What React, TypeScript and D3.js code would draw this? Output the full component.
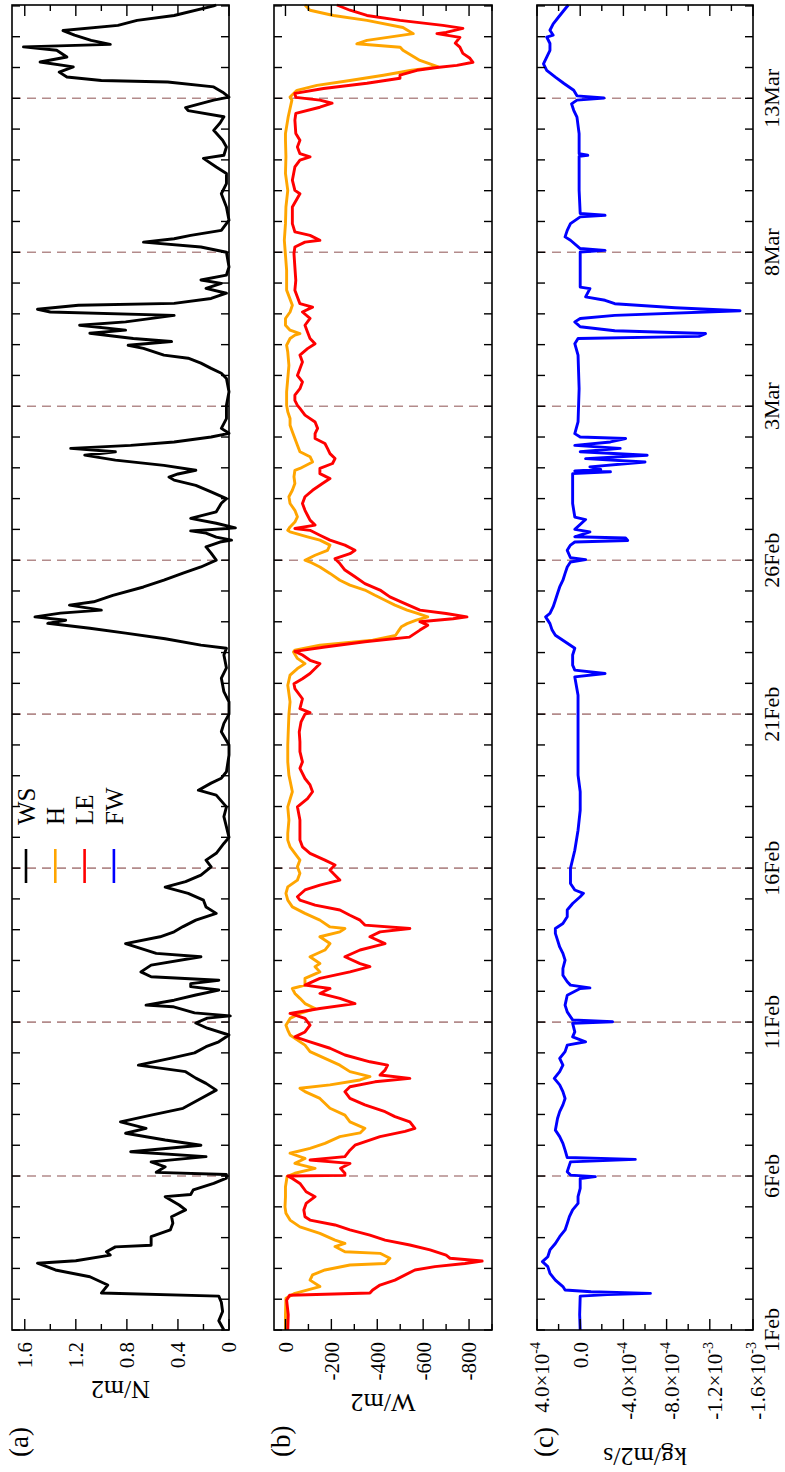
import React, { useEffect, useRef } from "react";
import * as d3 from "d3";

// [days since 1 Feb, value]
type Point = [number, number];

// wind stress, N/m2
const wsData: Point[] = [
  [0, 0.04], [0.3, 0.08], [0.6, 0.05], [0.9, 0.06], [1.1, 0.08], [1.2, 1.0], [1.46, 0.95], [1.73, 1.09],
  [1.95, 1.36], [2.17, 1.5], [2.25, 1.2], [2.43, 0.93], [2.54, 0.96], [2.7, 0.89], [2.75, 0.61], [3.03, 0.61],
  [3.25, 0.46], [3.47, 0.44], [3.68, 0.45], [3.9, 0.34], [4.06, 0.39], [4.33, 0.5], [4.4, 0.3], [4.55, 0.28],
  [4.76, 0.12], [4.93, 0.02], [5.05, 0.02], [5.12, 0.57], [5.3, 0.5], [5.46, 0.61], [5.63, 0.18], [5.79, 0.77],
  [6.0, 0.22], [6.17, 0.5], [6.39, 0.81], [6.55, 0.65], [6.76, 0.85], [6.98, 0.61], [7.2, 0.36], [7.52, 0.22],
  [7.79, 0.1], [8.01, 0.18], [8.18, 0.26], [8.39, 0.34], [8.6, 0.71], [8.82, 0.46], [9.0, 0.27], [9.2, 0.18],
  [9.36, 0.08], [9.58, 0.0], [9.8, 0.17], [9.97, 0.26], [10.13, 0.17], [10.2, -0.01], [10.3, 0.27], [10.5, 0.44],
  [10.55, 0.65], [10.71, 0.43], [10.88, 0.26], [11.04, 0.08], [11.15, 0.3], [11.25, 0.3], [11.36, 0.08],
  [11.47, 0.61], [11.63, 0.69], [11.85, 0.61], [12.12, 0.22], [12.23, 0.57], [12.44, 0.73], [12.55, 0.81],
  [12.77, 0.54], [12.93, 0.43], [13.1, 0.36], [13.31, 0.26], [13.53, 0.1], [13.74, 0.18], [13.96, 0.2],
  [14.18, 0.32], [14.38, 0.5], [14.56, 0.34], [14.77, 0.22], [15.04, 0.14], [15.26, 0.18], [15.48, 0.1],
  [15.8, 0.04], [16.0, 0.0], [16.34, 0.02], [16.67, 0.04], [16.99, 0.02], [17.37, 0.1], [17.53, 0.24],
  [17.76, 0.14], [17.92, 0.06], [18.13, 0.02], [18.67, 0.0], [19.0, 0.0], [19.43, 0.06], [19.7, 0.04],
  [20.0, 0.0], [20.4, 0.0], [20.73, 0.04], [21.17, 0.06], [21.5, 0.02], [21.92, 0.04], [22.14, 0.02],
  [22.24, 0.22], [22.45, 0.5], [22.63, 0.81], [22.79, 1.09], [22.95, 1.42], [23.05, 1.28], [23.16, 1.52],
  [23.28, 1.32], [23.38, 1.0], [23.54, 1.25], [23.65, 1.06], [23.86, 0.91], [24.13, 0.67], [24.35, 0.51],
  [24.58, 0.36], [24.78, 0.22], [25.0, 0.1], [25.23, 0.14], [25.43, 0.18], [25.6, 0.06], [25.65, -0.02],
  [25.75, 0.1], [25.88, 0.18], [25.95, 0.3], [26.05, -0.05], [26.2, 0.1], [26.36, 0.3], [26.57, 0.1],
  [26.85, 0.06], [27.0, 0.02], [27.22, 0.14], [27.43, 0.26], [27.6, 0.43], [27.7, 0.47], [27.8, 0.4],
  [27.92, 0.26], [28.08, 0.51], [28.25, 0.89], [28.41, 1.13], [28.52, 0.89], [28.63, 1.24], [28.73, 0.77],
  [28.84, 0.43], [29.0, 0.14], [29.12, 0.0], [29.28, 0.06], [29.6, 0.02], [30.03, 0.02], [30.47, 0.0],
  [30.9, 0.02], [31.07, 0.06], [31.23, 0.14], [31.4, 0.22], [31.56, 0.32], [31.66, 0.51], [31.88, 0.67],
  [31.98, 0.79], [32.1, 0.45], [32.2, 0.75], [32.37, 1.09], [32.47, 0.81], [32.63, 1.17], [32.74, 0.81],
  [32.95, 0.43], [33.06, 1.4], [33.15, 1.5], [33.28, 1.18], [33.34, 0.43], [33.5, 0.14], [33.67, 0.02],
  [33.83, 0.18], [33.99, 0.06], [34.1, 0.22], [34.26, 0.02], [34.52, 0.0], [35.0, 0.02], [35.17, 0.22],
  [35.33, 0.67], [35.44, 0.43], [35.55, 0.3], [35.71, 0.06], [36.04, 0.0], [36.47, 0.02], [36.9, 0.06],
  [37.23, 0.02], [37.56, 0.02], [37.77, 0.1], [38.05, 0.2], [38.15, 0.04], [38.42, 0.02], [38.64, 0.05],
  [38.96, 0.12], [39.2, 0.07], [39.4, 0.04], [39.6, 0.32], [39.7, 0.34], [39.94, 0.12], [40.04, 0.0],
  [40.2, 0.05], [40.37, 0.12], [40.53, 0.48], [40.58, 1.0], [40.69, 1.27], [40.85, 1.33], [41.02, 1.22],
  [41.18, 1.48], [41.34, 1.27], [41.56, 1.35], [41.67, 1.61], [41.75, 0.93], [41.88, 1.08], [42.05, 1.21],
  [42.2, 1.3], [42.37, 0.87], [42.53, 0.72], [42.69, 0.43], [43.0, 0.12], [43.03, 0.1],
];

// sensible heat flux, W/m2
const hData: Point[] = [
  [0, 0], [0.5, 0], [1.03, -2], [1.19, -41], [1.41, -150], [1.62, -107], [1.79, -118], [1.95, -172],
  [2.11, -281], [2.16, -434], [2.33, -455], [2.49, -412], [2.54, -259], [2.71, -216], [2.81, -259],
  [2.92, -216], [3.14, -150], [3.35, -63], [3.57, -20], [3.79, -2], [4.0, 2], [4.33, 0], [4.65, 0],
  [4.98, -7], [5.09, -41], [5.25, -129], [5.41, -41], [5.57, -85], [5.74, -20], [5.9, -107], [6.06, -172],
  [6.28, -237], [6.4, -325], [6.55, -346], [6.76, -281], [6.98, -259], [7.2, -194], [7.52, -150],
  [7.74, -85], [7.85, -63], [7.96, -194], [8.12, -325], [8.23, -368], [8.39, -281], [8.6, -237],
  [8.82, -172], [9.04, -107], [9.25, -85], [9.47, -41], [9.58, -20], [9.74, -10], [9.9, -2], [10.12, -20],
  [10.28, -63], [10.44, -129], [10.6, -85], [10.77, -63], [10.93, -41], [11.09, -30], [11.2, -85],
  [11.42, -85], [11.63, -150], [11.8, -129], [11.9, -150], [12.12, -107], [12.34, -172], [12.55, -194],
  [12.77, -150], [12.93, -237], [13.04, -259], [13.09, -194], [13.31, -150], [13.53, -85], [13.74, -30],
  [13.96, -10], [14.18, -2], [14.39, -10], [14.61, -52], [14.83, -63], [15.04, -52], [15.26, -63],
  [15.48, -41], [15.69, -20], [15.91, -10], [16.13, -10], [16.56, -15], [16.99, -10], [17.48, -30],
  [18.02, -15], [18.45, -10], [18.99, -10], [19.42, -12], [19.99, -15], [20.4, -20], [20.94, -10],
  [21.27, -20], [21.48, -52], [21.64, -85], [21.81, -52], [22.02, -35], [22.08, -41], [22.24, -150],
  [22.4, -380], [22.56, -480], [22.73, -495], [22.84, -505], [22.94, -530], [23.05, -570], [23.16, -620],
  [23.27, -575], [23.38, -530], [23.54, -477], [23.7, -434], [23.86, -390], [24.03, -346], [24.19, -281],
  [24.35, -237], [24.57, -194], [24.78, -150], [24.94, -107], [25.0, -85], [25.16, -129], [25.32, -183],
  [25.49, -194], [25.65, -150], [25.76, -96], [25.92, -20], [25.97, -10], [26.08, -20], [26.24, -41],
  [26.41, -52], [26.62, -41], [26.84, -20], [27.06, -15], [27.27, -30], [27.49, -41], [27.71, -37],
  [27.92, -41], [27.98, -63], [28.19, -118], [28.36, -107], [28.52, -63], [28.73, -52], [28.95, -41],
  [29.17, -30], [29.38, -20], [29.6, -20], [29.82, -10], [30.03, -5], [30.47, -5], [30.9, -10],
  [31.33, -15], [31.76, -10], [31.98, -5], [32.2, -20], [32.31, -41], [32.36, -63], [32.47, -20],
  [32.63, 0], [32.85, 0], [33.06, -20], [33.28, -30], [33.77, -5], [34.42, -5], [35.39, 5], [35.93, 0],
  [36.47, -2], [37.01, -10], [37.56, 0], [38.1, -2], [38.64, 0], [38.86, 0], [39.4, -12], [39.94, -28],
  [40.04, -20], [40.26, -50], [40.42, -137], [40.58, -281], [40.75, -427], [40.91, -550], [41.02, -666],
  [41.23, -586], [41.56, -512], [41.66, -500], [41.77, -311], [41.88, -355], [42.1, -557], [42.3, -512],
  [42.53, -355], [42.69, -209], [42.86, -107], [43.03, -85],
];

// latent heat flux, W/m2
const leData: Point[] = [
  [0, -10], [0.5, -12], [0.97, -5], [1.13, -18], [1.2, -368], [1.3, -380], [1.46, -412], [1.62, -477],
  [1.95, -564], [2.06, -651], [2.16, -782], [2.24, -857], [2.33, -717], [2.43, -700], [2.6, -630],
  [2.76, -542], [2.92, -434], [3.08, -368], [3.25, -281], [3.41, -216], [3.57, -107], [3.68, -85],
  [3.9, -80], [4.11, -90], [4.33, -129], [4.49, -90], [4.76, -63], [4.92, -30], [5.0, -10], [5.02, -259],
  [5.09, -259], [5.25, -240], [5.41, -281], [5.52, -107], [5.63, -259], [5.84, -281], [6.0, -303],
  [6.28, -412], [6.45, -521], [6.55, -564], [6.76, -542], [6.93, -477], [7.09, -434], [7.31, -346],
  [7.52, -281], [7.74, -259], [7.9, -281], [8.06, -390], [8.17, -542], [8.28, -412], [8.44, -434],
  [8.6, -445], [8.71, -368], [8.93, -259], [9.15, -194], [9.36, -107], [9.52, -41], [9.68, -85],
  [9.9, -107], [10.12, -85], [10.28, -20], [10.44, -150], [10.6, -303], [10.77, -237], [10.93, -150],
  [11.09, -194], [11.2, -85], [11.42, -150], [11.63, -281], [11.8, -368], [11.9, -325], [12.12, -259],
  [12.34, -325], [12.55, -434], [12.77, -368], [12.93, -412], [13.04, -542], [13.15, -346], [13.31, -325],
  [13.47, -281], [13.64, -237], [13.8, -129], [13.96, -63], [14.07, -52], [14.29, -85], [14.45, -150],
  [14.61, -237], [14.77, -216], [14.94, -194], [15.1, -216], [15.26, -172], [15.48, -107], [15.69, -74],
  [15.91, -63], [16.13, -63], [16.56, -63], [16.99, -52], [17.26, -96], [17.48, -118], [17.7, -107],
  [17.91, -85], [18.24, -63], [18.45, -74], [18.78, -63], [19.1, -63], [19.42, -60], [19.75, -68],
  [20.0, -85], [20.05, -107], [20.18, -63], [20.5, -74], [20.83, -41], [20.99, -37], [21.15, -74],
  [21.32, -107], [21.48, -129], [21.64, -150], [21.75, -107], [21.92, -74], [22.04, -41], [22.18, -172],
  [22.35, -346], [22.5, -540], [22.73, -586], [22.89, -620], [23.0, -586], [23.1, -730], [23.16, -791],
  [23.27, -700], [23.38, -586], [23.59, -521], [23.81, -455], [24.03, -412], [24.24, -346], [24.46, -303],
  [24.68, -259], [24.89, -237], [25.05, -216], [25.21, -281], [25.32, -303], [25.49, -259], [25.65, -194],
  [25.81, -150], [25.97, -107], [26.03, -41], [26.14, -129], [26.3, -107], [26.46, -96], [26.62, -85],
  [26.84, -74], [27.06, -85], [27.27, -118], [27.49, -161], [27.65, -194], [27.81, -150], [27.98, -150],
  [28.14, -205], [28.3, -216], [28.46, -194], [28.63, -183], [28.79, -172], [28.95, -129], [29.11, -129],
  [29.28, -140], [29.49, -129], [29.71, -85], [29.93, -63], [30.03, -52], [30.19, -41], [30.36, -41],
  [30.57, -63], [30.79, -74], [31.0, -52], [31.22, -63], [31.44, -74], [31.66, -63], [31.87, -96],
  [32.03, -129], [32.2, -107], [32.41, -96], [32.63, -85], [32.85, -107], [33.06, -74], [33.22, -118],
  [33.33, -63], [33.55, -52], [33.77, -41], [34.09, -45], [34.52, -41], [34.96, -37], [35.17, -41],
  [35.33, -85], [35.39, -150], [35.55, -107], [35.66, -41], [35.93, -30], [36.47, -30], [36.9, -63],
  [37.01, -41], [37.34, -30], [37.77, -41], [37.99, -63], [38.1, -107], [38.2, -63], [38.42, -52],
  [38.64, -63], [38.86, -45], [39.29, -41], [39.51, -45], [39.71, -150], [39.84, -203], [39.94, -150],
  [40.03, -45], [40.16, -41], [40.32, -166], [40.49, -355], [40.65, -499], [40.75, -499], [40.91, -573],
  [41.0, -660], [41.07, -747], [41.17, -817], [41.3, -804], [41.46, -773], [41.66, -760], [41.79, -740],
  [41.98, -760], [42.1, -660], [42.14, -700], [42.27, -773], [42.37, -686], [42.53, -499], [42.69, -355],
  [42.86, -281], [43.03, -224],
];

// freshwater flux, in units of 1e-4 kg/m2/s
const fwData: Point[] = [
  [0, 0], [0.5, 0.05], [1.1, 0], [1.15, -2.5], [1.19, -6.5], [1.24, -1], [1.3, 1.4], [1.41, 1.6],
  [1.62, 2.3], [1.84, 2.8], [2.06, 3.0], [2.22, 3.5], [2.38, 3.0], [2.6, 2.8], [2.81, 2.3], [3.03, 1.9],
  [3.25, 1.4], [3.46, 1.2], [3.68, 1.0], [3.9, 0.7], [4.11, 0.2], [4.33, 0.2], [4.6, 0], [4.92, 0],
  [4.98, -1.4], [5.03, 0.9], [5.14, 1.2], [5.46, 0.9], [5.54, -5.1], [5.6, 1.2], [5.84, 1.4], [6.06, 1.6],
  [6.28, 1.9], [6.49, 2.3], [6.87, 2.1], [7.09, 1.9], [7.31, 1.6], [7.52, 1.4], [7.74, 1.6], [7.96, 1.9],
  [8.17, 2.4], [8.39, 1.9], [8.6, 1.6], [8.82, 1.9], [9.04, 1.4], [9.25, 1.2], [9.36, -0.5], [9.52, 0.7],
  [9.68, 0.5], [9.96, 0.7], [10.01, -3.0], [10.07, 0.7], [10.33, 1.2], [10.55, 1.4], [10.87, 1.2],
  [11.09, 0], [11.11, -0.9], [11.2, 0.9], [11.31, 1.2], [11.52, 1.6], [11.74, 1.6], [12.01, 1.4],
  [12.23, 1.6], [12.44, 1.9], [12.66, 2.1], [12.88, 2.3], [13.04, 2.3], [13.2, 1.6], [13.42, 1.2],
  [13.64, 1.2], [13.85, 0.7], [14.07, 0], [14.18, -0.3], [14.29, 0.5], [14.5, 0.9], [14.99, 0.9],
  [15.58, 0.5], [16.23, 0.2], [16.88, 0], [17.48, 0], [18.02, 0.2], [19.31, 0.2], [20.61, 0.2],
  [21.21, 0.5], [21.32, -2.3], [21.43, 0.5], [21.59, 0.7], [21.92, 0.7], [22.14, 0.5], [22.35, 1.4],
  [22.56, 2.3], [22.73, 2.6], [22.94, 2.8], [23.16, 3.2], [23.27, 2.8], [23.49, 2.5], [23.7, 2.3],
  [23.92, 2.1], [24.13, 1.9], [24.35, 1.6], [24.57, 1.4], [24.78, 1.2], [24.94, 0.9], [25.02, -0.5],
  [25.08, 0.9], [25.32, 1.2], [25.49, 0.9], [25.59, 0.5], [25.64, -4.4], [25.72, -4.2], [25.76, 0.5],
  [25.92, -0.9], [26.0, 0.5], [26.32, -0.5], [26.4, 0.5], [26.84, 0.7], [27.49, 0.7], [27.81, 0.7],
  [27.87, -2.8], [27.9, 0.5], [27.95, -1.9], [28.03, -0.9], [28.19, -6.0], [28.3, -0.5], [28.41, -6.2],
  [28.52, 0], [28.63, -3.7], [28.73, 0.5], [28.84, -2.8], [28.95, -4.2], [29.0, 0], [29.11, 0.5],
  [29.49, 0.2], [30.57, 0.1], [31.66, 0.2], [32.03, 0.5], [32.2, 0.2], [32.27, -11.0], [32.36, -11.6],
  [32.45, -3.2], [32.58, 0], [32.74, 0.5], [32.85, 0], [32.95, -3.2], [33.1, -14.8], [33.2, -8.8],
  [33.33, -3.2], [33.44, -2.3], [33.55, -0.5], [33.82, -0.9], [33.87, 0], [34.31, 0], [35.01, 0],
  [35.06, -2.3], [35.12, 0], [35.39, 0.9], [35.5, 1.4], [35.71, 1.2], [35.93, 0.9], [36.15, 0],
  [36.2, -2.3], [36.26, 0], [37.01, 0.1], [37.56, 0.1], [38.12, 0.1], [38.15, -0.7], [38.2, 0.1],
  [38.64, 0.1], [38.85, 0.1], [39.39, 0.3], [39.61, 0.6], [39.82, 0.8], [39.94, 0.3], [40.01, -2.2],
  [40.08, 0.3], [40.26, 0.6], [40.48, 1.5], [40.69, 2.3], [40.91, 3.1], [41.12, 3.4], [41.34, 3.1],
  [41.56, 2.8], [41.78, 2.8], [41.99, 3.1], [42.05, 2.5], [42.21, 2.8], [42.42, 2.5], [42.64, 2.0],
  [42.86, 1.5], [43.03, 1.1],
];

const wsTicks = [0, 0.4, 0.8, 1.2, 1.6];
const heatTicks = [0, -200, -400, -600, -800];
const fwTicks = [4e-4, 0, -4e-4, -8e-4, -1.2e-3, -1.6e-3];
const legendNames = ["WS", "H", "LE", "FW"];
const legendColors = ["#000000", "#ffa500", "#ff0000", "#0000ff"];

const PAGE_W = 785;
const PAGE_H = 1472;
const DAY = 864e5;
const FONT = "'Liberation Serif', 'Times New Roman', Times, serif";
const start = new Date(Date.UTC(2019, 1, 1));
const end = new Date(+start + 43.03 * DAY);

interface Series {
  data: Point[];
  color: string;
  scale: number;
}

interface Panel {
  label: string;
  title: string;
  titleX: number;
  top: number;
  bottom: number;
  domain: [number, number];
  ticks: number[];
  minorStep: number;
  fmt: (v: number) => [string, string];
  series: Series[];
}

const plain = (v: number): [string, string] => [String(v), ""];
const sci = (v: number): [string, string] => {
  if (v === 0) return ["0.0", ""];
  const e = Math.floor(Math.log10(Math.abs(v)) + 1e-9);
  return [`${(v / Math.pow(10, e)).toFixed(1)}×10`, String(e)];
};

const panels: Panel[] = [
  {
    label: "(a)", title: "N/m2", titleX: 91, top: 12, bottom: 229,
    domain: [1.7, 0], ticks: wsTicks, minorStep: 0.2, fmt: plain,
    series: [{ data: wsData, color: "#000000", scale: 1 }],
  },
  {
    label: "(b)", title: "W/m2", titleX: 78, top: 274, bottom: 492,
    domain: [50, -900], ticks: heatTicks, minorStep: 100, fmt: plain,
    series: [
      { data: hData, color: "#ffa500", scale: 1 },
      { data: leData, color: "#ff0000", scale: 1 },
    ],
  },
  {
    label: "(c)", title: "kg/m2/s", titleX: 24, top: 537, bottom: 753,
    domain: [4e-4, -1.6e-3], ticks: fwTicks, minorStep: 2e-4, fmt: sci,
    series: [{ data: fwData, color: "#0000ff", scale: 1e-4 }],
  },
];

const App: React.FC = () => {
  const chartRef = useRef<SVGSVGElement | null>(null);

  useEffect(() => {
    if (!chartRef.current) return;
    const svg = d3.select(chartRef.current);
    svg.selectAll("*").remove();

    // the chart is drawn landscape and turned a quarter turn to the left
    const g = svg
      .append("g")
      .attr("transform", `translate(0,${PAGE_H}) rotate(-90)`)
      .attr("font-family", FONT);

    const x = d3.scaleUtc().domain([start, end]).range([142, 1467]);
    const [x0, x1] = x.range();
    const days = d3.utcDay.range(start, end);
    const labelled = d3.utcDay.range(start, end, 5);
    const toDate = (t: number) => new Date(+start + t * DAY);

    panels.forEach((p) => {
      const y = d3.scaleLinear().domain(p.domain).range([p.top, p.bottom]);
      const lo = Math.min(...p.domain);
      const hi = Math.max(...p.domain);

      // dashed day markers
      g.append("g")
        .selectAll("line")
        .data(labelled.slice(1))
        .join("line")
        .attr("x1", (d) => x(d))
        .attr("x2", (d) => x(d))
        .attr("y1", p.top)
        .attr("y2", p.bottom)
        .attr("stroke", "#b38b8b")
        .attr("stroke-width", 1.6)
        .attr("stroke-dasharray", "9,6");

      // series
      p.series.forEach((s) => {
        const line = d3
          .line<Point>()
          .x((d) => x(toDate(d[0])))
          .y((d) => y(d[1] * s.scale));
        g.append("path")
          .attr("d", line(s.data))
          .attr("fill", "none")
          .attr("stroke", s.color)
          .attr("stroke-width", 2.9)
          .attr("stroke-linejoin", "round");
      });

      // day ticks on both edges
      const tk = g.append("g").attr("stroke", "#000").attr("stroke-width", 1.4);
      days.forEach((d) => {
        tk.append("line").attr("x1", x(d)).attr("x2", x(d)).attr("y1", p.top).attr("y2", p.top + 8);
        tk.append("line").attr("x1", x(d)).attr("x2", x(d)).attr("y1", p.bottom - 8).attr("y2", p.bottom);
      });

      // value ticks, minor and major
      const minor = d3
        .range(Math.ceil(lo / p.minorStep - 1e-9), Math.floor(hi / p.minorStep + 1e-9) + 1)
        .map((i) => i * p.minorStep);
      minor.forEach((v) => {
        const isMajor = p.ticks.some((t) => Math.abs(t - v) < p.minorStep / 10);
        const len = isMajor ? 11 : 6;
        tk.append("line").attr("x1", x0).attr("x2", x0 + len).attr("y1", y(v)).attr("y2", y(v));
        tk.append("line").attr("x1", x1 - len).attr("x2", x1).attr("y1", y(v)).attr("y2", y(v));
      });

      // value labels
      p.ticks.forEach((v) => {
        const [main, exp] = p.fmt(v);
        const t = g
          .append("text")
          .attr("x", 130)
          .attr("y", y(v) + (exp ? 5 : 0))
          .attr("dy", "0.35em")
          .attr("text-anchor", "end")
          .attr("font-size", 21)
          .text(main);
        if (exp) {
          t.append("tspan").attr("dy", -9).attr("font-size", 14).text(exp);
        }
      });

      // frame
      g.append("rect")
        .attr("x", x0)
        .attr("y", p.top)
        .attr("width", x1 - x0)
        .attr("height", p.bottom - p.top)
        .attr("fill", "none")
        .attr("stroke", "#000")
        .attr("stroke-width", 1.6);

      // axis title
      g.append("text")
        .attr("transform", `translate(${p.titleX},${(p.top + p.bottom) / 2}) rotate(-90)`)
        .attr("text-anchor", "middle")
        .attr("font-size", 26)
        .text(p.title);

      // panel letter
      g.append("text")
        .attr("x", 15)
        .attr("y", p.top + 16)
        .attr("font-size", 27)
        .text(p.label);
    });

    // date labels under the last panel
    g.append("g")
      .selectAll("text")
      .data(labelled)
      .join("text")
      .attr("x", (d) => x(d))
      .attr("y", 779)
      .attr("text-anchor", "middle")
      .attr("font-size", 22)
      .text((d) => d3.utcFormat("%-d%b")(d));

    // legend inside panel (a)
    const lg = g.append("g");
    legendNames.forEach((name, i) => {
      const ly = 26 + i * 29.3;
      lg.append("line")
        .attr("x1", 589)
        .attr("x2", 623)
        .attr("y1", ly)
        .attr("y2", ly)
        .attr("stroke", legendColors[i])
        .attr("stroke-width", 2.6);
      lg.append("text")
        .attr("x", 647)
        .attr("y", ly)
        .attr("dy", "0.35em")
        .attr("font-size", 25)
        .text(name);
    });
  }, []);

  return (
    <svg
      ref={chartRef}
      width={PAGE_W}
      height={PAGE_H}
      style={{ position: "absolute", left: 0, top: 0, background: "#fff" }}
    ></svg>
  );
};

export default App;
